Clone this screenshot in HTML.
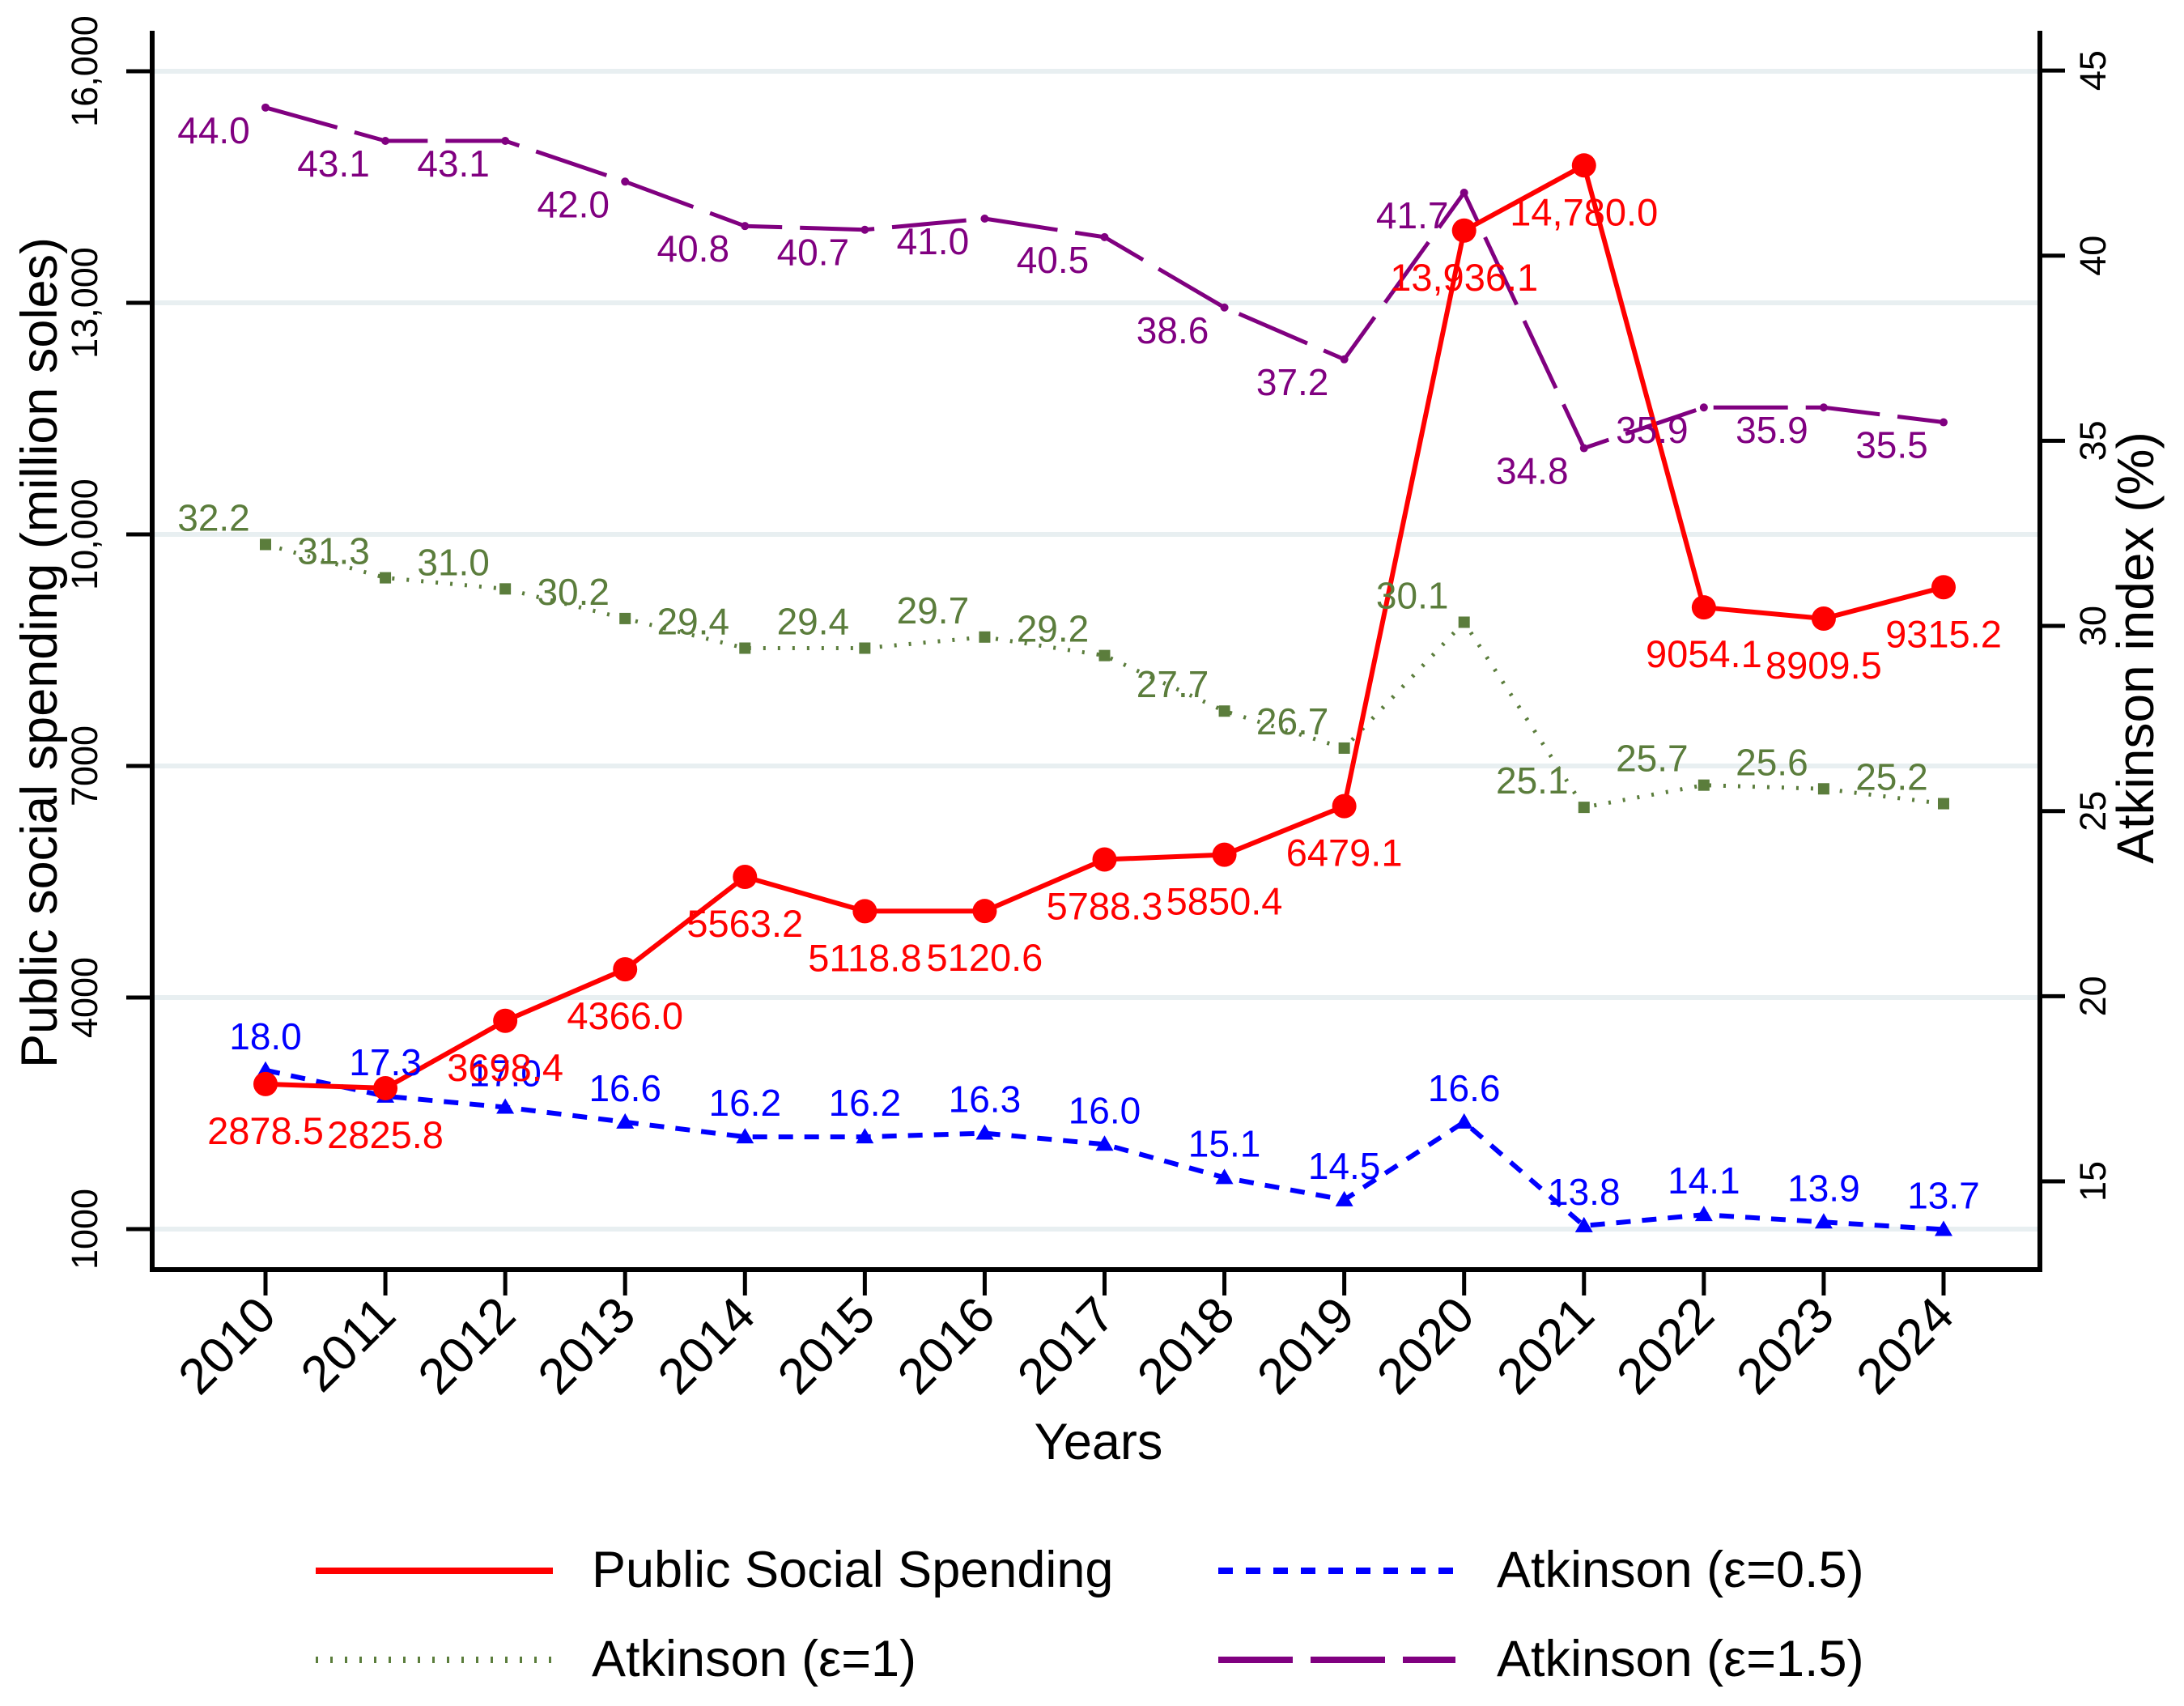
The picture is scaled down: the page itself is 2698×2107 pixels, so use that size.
<!DOCTYPE html>
<html><head><meta charset="utf-8"><style>
html,body{margin:0;padding:0;background:#fff;}
svg{display:block;font-family:"Liberation Sans",sans-serif;}
</style></head><body>
<svg id="chart" width="2698" height="2107" viewBox="0 0 2698 2107" xmlns="http://www.w3.org/2000/svg">
<rect x="0" y="0" width="2698" height="2107" fill="#fff"/>
<g id="grid"></g>
<g id="axes"></g>
<g id="series"></g>
<g id="labels"></g>
<text transform="translate(70,806) rotate(-90)" text-anchor="middle" font-size="63" fill="#000">Public social spending (million soles)</text>
<text transform="translate(2660,800) rotate(-90)" text-anchor="middle" font-size="64" fill="#000">Atkinson index (%)</text>
<text x="1357" y="1802" text-anchor="middle" font-size="63" fill="#000">Years</text>
<g>
  <g>
    <line x1="390" y1="1940" x2="683" y2="1940" stroke="#ff0000" stroke-width="8"/>
    <text x="731" y="1960" font-size="63" fill="#000">Public Social Spending</text>
  </g>
  <g>
    <line x1="1505" y1="1940" x2="1798" y2="1940" stroke="#0000ff" stroke-width="8" stroke-dasharray="18 16"/>
    <text x="1849" y="1960" font-size="63" fill="#000">Atkinson (ε=0.5)</text>
  </g>
  <g>
    <line x1="390" y1="2050" x2="683" y2="2050" stroke="#5b7d3c" stroke-width="8" stroke-dasharray="3 15"/>
    <text x="731" y="2070" font-size="63" fill="#000">Atkinson (ε=1)</text>
  </g>
  <g>
    <line x1="1505" y1="2050" x2="1798" y2="2050" stroke="#800080" stroke-width="8" stroke-dasharray="92 22"/>
    <text x="1849" y="2070" font-size="63" fill="#000">Atkinson (ε=1.5)</text>
  </g>
</g>
</svg>
<script>
const years = [2010,2011,2012,2013,2014,2015,2016,2017,2018,2019,2020,2021,2022,2023,2024];
const spending = [2878.5,2825.8,3698.4,4366.0,5563.2,5118.8,5120.6,5788.3,5850.4,6479.1,13936.1,14780.0,9054.1,8909.5,9315.2];
const spendingLabels = ["2878.5","2825.8","3698.4","4366.0","5563.2","5118.8","5120.6","5788.3","5850.4","6479.1","13,936.1","14,780.0","9054.1","8909.5","9315.2"];
const atk05 = [18.0,17.3,17.0,16.6,16.2,16.2,16.3,16.0,15.1,14.5,16.6,13.8,14.1,13.9,13.7];
const atk1 = [32.2,31.3,31.0,30.2,29.4,29.4,29.7,29.2,27.7,26.7,30.1,25.1,25.7,25.6,25.2];
const atk15 = [44.0,43.1,43.1,42.0,40.8,40.7,41.0,40.5,38.6,37.2,41.7,34.8,35.9,35.9,35.5];
const leftTicks = [1000,4000,7000,10000,13000,16000];
const leftTickLabels = ["1000","4000","7000","10,000","13,000","16,000"];
const rightTicks = [15,20,25,30,35,40,45];

const NS = "http://www.w3.org/2000/svg";
const X0 = 328, XSTEP = 148.07;
const PL = 188, PR = 2520, PT = 38, PB = 1568;
function xs(i){ return X0 + i*XSTEP; }
function yl(v){ return 1518 - (v-1000)*0.095333; }
function yr(v){ return 1459 - (v-15)*45.73; }
function mk(tag, attrs, parent){ const e=document.createElementNS(NS,tag); for(const k in attrs) e.setAttribute(k,attrs[k]); parent.appendChild(e); return e; }

const grid=document.getElementById('grid'), axes=document.getElementById('axes'), series=document.getElementById('series'), labels=document.getElementById('labels');

leftTicks.forEach((t,i)=>{
  const y=yl(t);
  const g=mk('line',{x1:PL,y1:y,x2:PR,y2:y,stroke:'#e8eff1','stroke-width':6},grid);
  
  
  const tk=mk('line',{x1:156,y1:y,x2:PL,y2:y,stroke:'#000','stroke-width':5},axes);
  
  
  const tx=mk('text',{transform:`translate(120,${y}) rotate(-90)`,'text-anchor':'middle','font-size':45,fill:'#000'},axes);
  tx.textContent=leftTickLabels[i];
  
  
});
rightTicks.forEach(t=>{
  const y=yr(t);
  const tk=mk('line',{x1:PR,y1:y,x2:2551,y2:y,stroke:'#000','stroke-width':5},axes);
  
  
  const tx=mk('text',{transform:`translate(2601,${y}) rotate(-90)`,'text-anchor':'middle','font-size':45,fill:'#000'},axes);
  tx.textContent=String(t);
  
  
});
years.forEach((yv,i)=>{
  const x=xs(i);
  const tk=mk('line',{x1:x,y1:PB,x2:x,y2:1600,stroke:'#000','stroke-width':5},axes);
  
  
  const tx=mk('text',{transform:`translate(${x+16},${1628}) rotate(-45)`,'text-anchor':'end','font-size':62,fill:'#000'},axes);
  tx.textContent=String(yv);
  
  
});
const ax=mk('path',{d:`M${PL},${PT} V${PB} H${PR} V${PT}`,fill:'none',stroke:'#000','stroke-width':6},axes);



function drawLine(vals, yf, color, dash, width, name){
  const d=vals.map((v,i)=>(i?'L':'M')+xs(i).toFixed(1)+','+yf(v).toFixed(1)).join(' ');
  const p=mk('path',{d:d,fill:'none',stroke:color,'stroke-width':width,'stroke-dasharray':dash,'stroke-linejoin':'round'},series);
  
  
}
drawLine(atk15, yr, '#800080', '92 22', 5, 'line-atkinson-1-5');
drawLine(atk1, yr, '#5b7d3c', '3 15', 5, 'line-atkinson-1');
drawLine(atk05, yr, '#0000ff', '18 14', 6, 'line-atkinson-0-5');
drawLine(spending, yl, '#ff0000', 'none', 6, 'line-public-social-spending');

atk15.forEach((v,i)=>{
  const c=mk('circle',{cx:xs(i),cy:yr(v),r:5,fill:'#800080'},series);
  
  
  const t=mk('text',{x:xs(i)-64,y:yr(v)+28+16,'text-anchor':'middle','font-size':46,fill:'#800080'},labels);
  t.textContent=v.toFixed(1);
  
  
});
atk1.forEach((v,i)=>{
  const s=mk('rect',{x:xs(i)-7,y:yr(v)-7,width:14,height:14,fill:'#5b7d3c'},series);
  
  
  const t=mk('text',{x:xs(i)-64,y:yr(v)-33+16,'text-anchor':'middle','font-size':46,fill:'#5b7d3c'},labels);
  t.textContent=v.toFixed(1);
  
  
});
atk05.forEach((v,i)=>{
  const x=xs(i), y=yr(v);
  const s=mk('polygon',{points:`${x-11},${y+8} ${x+11},${y+8} ${x},${y-11}`,fill:'#0000ff'},series);
  
  
  const t=mk('text',{x:x,y:y-42+16,'text-anchor':'middle','font-size':46,fill:'#0000ff'},labels);
  t.textContent=v.toFixed(1);
  
  
});
spending.forEach((v,i)=>{
  const c=mk('circle',{cx:xs(i),cy:yl(v),r:15,fill:'#ff0000'},series);
  
  
  const t=mk('text',{x:xs(i),y:yl(v)+58+16,'text-anchor':'middle','font-size':47,fill:'#ff0000'},labels);
  t.textContent=spendingLabels[i];
  
  
});
</script>
</body></html>
